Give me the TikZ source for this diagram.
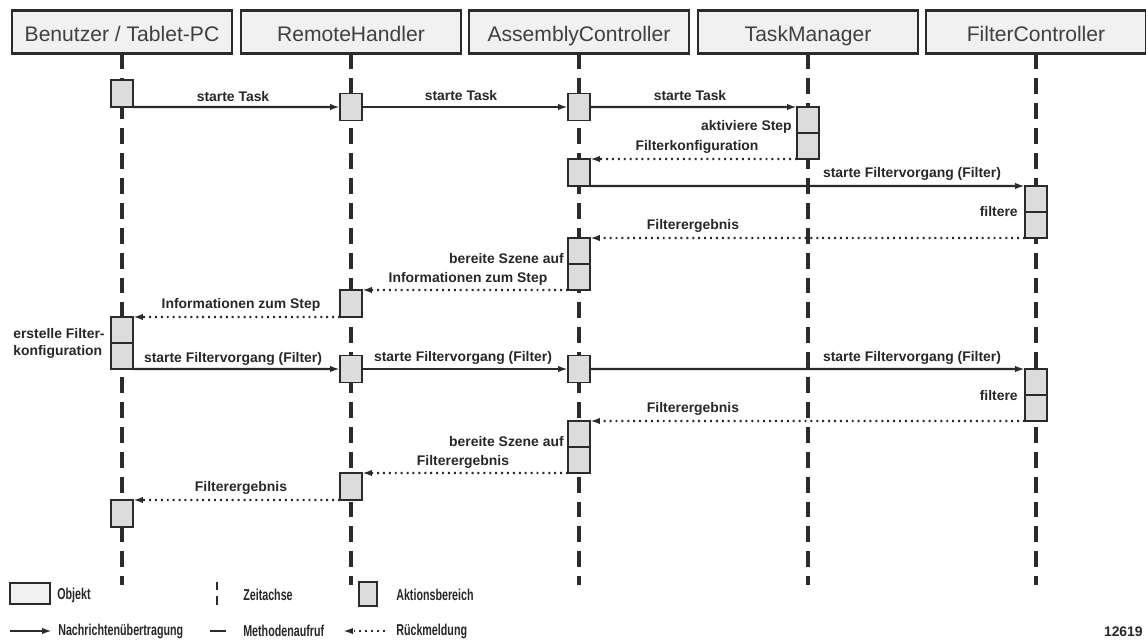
\documentclass[tikz,border=0pt]{standalone}
\usepackage{fontspec}
\usepackage{graphicx}
\setmainfont{Liberation Sans}
\usetikzlibrary{arrows.meta}

\definecolor{ink}{HTML}{2B2B2B}
\definecolor{objfill}{HTML}{F1F1F1}
\definecolor{actfill}{HTML}{DCDCDC}

% narrow legend captions
\newcommand\legtext[1]{\scalebox{0.68}[1]{#1}}

\tikzset{
  object/.style={draw=ink, line width=2pt, fill=objfill, minimum width=5.5cm,
    minimum height=1.075cm, inner sep=0pt, outer sep=0pt,
    text height=14.2pt, text depth=0pt,
    font=\fontsize{15}{18}\selectfont, text=ink!90},
  lifeline/.style={draw=ink, line width=2.8pt, dash pattern=on 11.3pt off 6.4pt},
  act/.style={draw=ink, line width=1.3pt, fill=actfill, minimum width=0.55cm,
    inner sep=0pt, outer sep=0pt},
  shortact/.style={act, minimum height=0.675cm},
  longact/.style={act, minimum height=1.3cm},
  msg/.style={draw=ink, line width=1.5pt, -{Latex[length=7pt,width=4.5pt]}},
  ret/.style={draw=ink, line width=1.5pt, dash pattern=on 1.4pt off 2.8pt,
    -{Latex[length=7pt,width=4.5pt]}},
  lbl/.style={font=\bfseries\fontsize{9.9}{12}\selectfont, text=ink!90!black, inner sep=0pt},
  legtxt/.style={font=\bfseries\fontsize{11.2}{13}\selectfont, text=ink!90!black,
    inner sep=0pt, anchor=west},
}

\begin{document}
\begin{tikzpicture}[x=0.025cm, y=-0.025cm]
\useasboundingbox (0,0) rectangle (1146,640);

% participants
\node[object] (h1) at (122,32) {Benutzer / Tablet-PC};
\node[object] (h2) at (351,32) {RemoteHandler};
\node[object] (h3) at (579,32) {AssemblyController};
\node[object] (h4) at (808,32) {TaskManager};
\node[object] (h5) at (1036,32) {FilterController};

% time axes
\coordinate (e1end) at (122,585);
\coordinate (e2end) at (351,585);
\coordinate (e3end) at (579,585);
\coordinate (e4end) at (808,585);
\coordinate (e5end) at (1036,585);
\draw[lifeline] (h1.south) -- (e1end);
\draw[lifeline] (h2.south) -- (e2end);
\draw[lifeline] (h3.south) -- (e3end);
\draw[lifeline] (h4.south) -- (e4end);
\draw[lifeline] (h5.south) -- (e5end);
% headers again on top of the axis starts
\node[object] at (h1) {Benutzer / Tablet-PC};
\node[object] at (h2) {RemoteHandler};
\node[object] at (h3) {AssemblyController};
\node[object] at (h4) {TaskManager};
\node[object] at (h5) {FilterController};

% activation areas
\node[shortact] (a1) at (122,93.5) {};
\node[shortact] (b1) at (351,107) {};
\node[shortact] (c1) at (579,107) {};
\node[longact]  (d1) at (808,133) {};
\node[shortact] (c2) at (579,172.5) {};
\node[longact]  (f1) at (1036,212) {};
\node[longact]  (c3) at (579,264) {};
\node[shortact] (b2) at (351,303.5) {};
\node[longact]  (a2) at (122,343) {};
\node[shortact] (b3) at (351,369) {};
\node[shortact] (c4) at (579,369) {};
\node[longact]  (f2) at (1036,395) {};
\node[longact]  (c5) at (579,447) {};
\node[shortact] (b4) at (351,486.5) {};
\node[shortact] (a3) at (122,513.5) {};

\foreach \n in {d1,f1,c3,a2,f2,c5}
  \draw[ink, line width=1.1pt] (\n.west) -- (\n.east);

% messages
\draw[msg] (a1.south east) -- (b1.west);
\draw[msg] (b1.east) -- (c1.west);
\draw[msg] (c1.east) -- (d1.north west);
\draw[ret] (d1.south west) -- (c2.north east);
\draw[msg] (c2.south east) -- (f1.north west);
\draw[ret] (f1.south west) -- (c3.north east);
\draw[ret] (c3.south west) -- (b2.north east);
\draw[ret] (b2.south west) -- (a2.north east);
\draw[msg] (a2.south east) -- (b3.west);
\draw[msg] (b3.east) -- (c4.west);
\draw[msg] (c4.east) -- (f2.north west);
\draw[ret] (f2.south west) -- (c5.north east);
\draw[ret] (c5.south west) -- (b4.north east);
\draw[ret] (b4.south west) -- (a3.north east);

% labels
\node[lbl] (l1) at (233,97) {starte Task};
\node[lbl] (l2) at (461,96) {starte Task};
\node[lbl] (l3) at (690,96) {starte Task};
\node[lbl, anchor=east] (l4) at (792,127) {aktiviere Step};
\node[lbl] (l5) at (697,147) {Filterkonfiguration};
\node[lbl] (l6) at (912,174) {starte Filtervorgang (Filter)};
\node[lbl, anchor=east] (l7) at (1018,212) {filtere};
\node[lbl] (l8) at (693,226) {Filterergebnis};
\node[lbl, anchor=east] (l9) at (564,259) {bereite Szene auf};
\node[lbl] (l10) at (468,279) {Informationen zum Step};
\node[lbl] (l11) at (241,305) {Informationen zum Step};
\node[lbl, anchor=west, align=left, font=\bfseries\fontsize{9.9}{12}\selectfont]
  (l12) at (13,343) {erstelle Filter-\\konfiguration};
\node[lbl] (l13) at (233,359) {starte Filtervorgang (Filter)};
\node[lbl] (l14) at (463,358) {starte Filtervorgang (Filter)};
\node[lbl] (l15) at (912,358) {starte Filtervorgang (Filter)};
\node[lbl, anchor=east] (l16) at (1018,396) {filtere};
\node[lbl] (l17) at (693,409) {Filterergebnis};
\node[lbl, anchor=east] (l18) at (564,442) {bereite Szene auf};
\node[lbl] (l19) at (463,462) {Filterergebnis};
\node[lbl] (l20) at (241,488) {Filterergebnis};

% legend
\node[draw=ink, line width=2pt, fill=objfill, minimum width=1cm, minimum height=0.525cm,
  inner sep=0pt] (kobj) at (30,593.5) {};
\node[legtxt] (tobj) at (57,595) {\legtext{Objekt}};
\coordinate (kz1) at (217,582);
\coordinate (kz2) at (217,590);
\coordinate (kz3) at (217,596);
\coordinate (kz4) at (217,605);
\draw[ink, line width=1.4pt] (kz1) -- (kz2) (kz3) -- (kz4);
\node[legtxt] (tz) at (243,595) {\legtext{Zeitachse}};
\node[act, minimum width=0.45cm, minimum height=0.6cm] (kact) at (368,594) {};
\node[legtxt] (tact) at (396,595) {\legtext{Aktionsbereich}};

\coordinate (kn1) at (10,631);
\coordinate (kn2) at (52,631);
\draw[msg] (kn1) -- (kn2);
\node[legtxt] (tn) at (58,631) {\legtext{Nachrichtenübertragung}};
\coordinate (km1) at (210,631);
\coordinate (km2) at (226,631);
\draw[ink, line width=1.5pt] (km1) -- (km2);
\node[legtxt] (tm) at (243,631) {\legtext{Methodenaufruf}};
\coordinate (kr1) at (385,631);
\coordinate (kr2) at (343,631);
\draw[ret] (kr1) -- (kr2);
\node[legtxt] (tr) at (396,631) {\legtext{Rückmeldung}};

\node[lbl, anchor=east] (num) at (1143,632) {12619};
\end{tikzpicture}
\end{document}
